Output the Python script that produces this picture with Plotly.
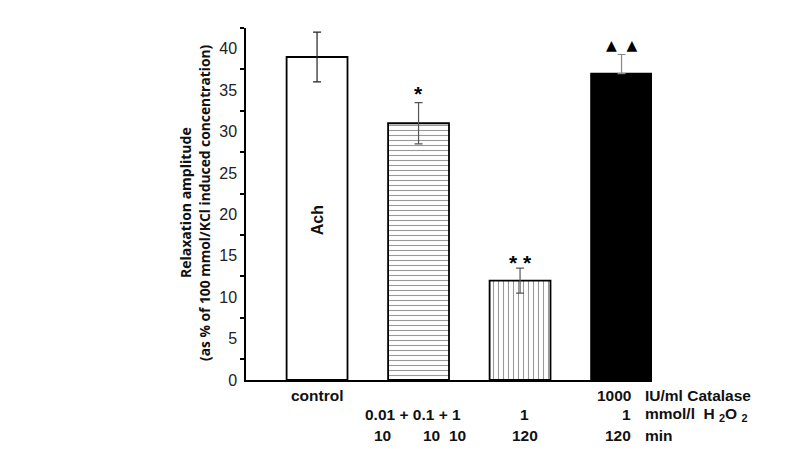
import plotly.graph_objects as go

# ---- data ----
categories = ["control", "H2O2 0.01+0.1+1 (10 min each)", "H2O2 1 (120 min)", "Catalase + H2O2 1 (120 min)"]
values = [39, 31, 12, 37]
errors_up = [3, 2.5, 1.5, 2.3]
errors_down = [3, 2.5, 1.5, 0]
significance = ["", "*", "* *", "\u25B2\u00a0\u00a0\u25B2"]
row_catalase = ["control", "", "", "1000"]
row_h2o2 = ["", "0.01 + 0.1 + 1", "1", "1"]
row_min_cumulative = ["10", "10", "10"]
row_min = ["", "", "120", "120"]
units = ["IU/ml Catalase", "mmol/l\u00a0\u00a0H\u00a0<sub>2</sub>O\u00a0<sub>2</sub>", "min"]
y_ticks = [0, 5, 10, 15, 20, 25, 30, 35, 40]

fills = ["white", "white", "white", "black"]
patterns = ["", "-", "|", ""]
err_colors = ["#222222", "#555555", "#555555", "#888888"]

FONT = "Liberation Sans, Arial, sans-serif"
TITLE_FONT = "Open Sans, Noto Sans, sans-serif"

fig = go.Figure()
xs = list(range(len(categories)))
for i in xs:
    fig.add_trace(go.Bar(
        x=[i], y=[values[i]], width=0.6, name=categories[i],
        marker=dict(color=fills[i], line=dict(color="black", width=1.8),
                    pattern=dict(shape=patterns[i], fgcolor="#333333", bgcolor="white",
                                 size=5, solidity=0.22) if patterns[i] else None),
        error_y=dict(type="data", array=[errors_up[i]], arrayminus=[errors_down[i]],
                     symmetric=False, visible=True,
                     color=err_colors[i], thickness=1.2, width=4),
        showlegend=False,
    ))

# page body has an 8px margin: figure shifted accordingly
W, H = 779, 460
L, T, R, B = 238, 20, 135, 88
PH = H - T - B  # plot height in px
PW = W - L - R
REF_Y0 = 380    # pixel y of the x axis in the reference

fig.update_layout(
    width=W, height=H,
    margin=dict(l=L, r=R, t=T, b=B),
    paper_bgcolor="white", plot_bgcolor="white",
    barmode="overlay",
    font=dict(family=FONT, color="#111111"),
    xaxis=dict(range=[-0.7, 3.3], showline=True, linecolor="black", linewidth=1.5,
               showticklabels=False, ticks="", showgrid=False, zeroline=False),
    yaxis=dict(range=[0, 42.5], showline=True, linecolor="black", linewidth=1.5,
               tickvals=y_ticks, ticktext=[str(v) for v in y_ticks], ticks="",
               tickfont=dict(size=16, color="#222222"), ticklabelstandoff=4,
               showgrid=False, zeroline=False,
               minor=dict(tick0=2.5, dtick=5, ticks="outside", ticklen=4,
                          tickcolor="black", tickwidth=1.5)),
)

ann = []
bold = dict(family=FONT, size=15.5, color="#111111")


def px_x(p):
    return (p - 246) / PW


def px_y(p):
    return (REF_Y0 - p) / PH


# y-axis title (two lines)
ann.append(dict(xref="paper", yref="paper", x=px_x(185), y=px_y(203),
                text="<b>Relaxation amplitude</b>", textangle=-90, showarrow=False,
                font=dict(family=TITLE_FONT, size=14, color="#111111"), xanchor="center", yanchor="middle"))
ann.append(dict(xref="paper", yref="paper", x=px_x(204), y=px_y(203),
                text="<b>(as % of 100 mmol/KCl induced concentration)</b>", textangle=-90, showarrow=False,
                font=dict(family=TITLE_FONT, size=13.8, color="#111111"), xanchor="center", yanchor="middle"))

# Ach inside control bar
ann.append(dict(x=0, y=19.3, text="<b>Ach</b>", textangle=-90, showarrow=False,
                font=dict(family=FONT, size=16, color="#111111")))

# significance markers
sig_y = [0, 34.6, 14.2, 40.5]
sig_size = [16, 21, 21, 14]
sig_font = [FONT, FONT, FONT, "DejaVu Sans"]
for i in xs:
    if significance[i]:
        ann.append(dict(x=i, y=sig_y[i], text="<b>" + significance[i] + "</b>", showarrow=False,
                        font=dict(family=sig_font[i], size=sig_size[i], color="black")))

# bottom rows (paper coordinates, below the axis)
r1, r2, r3 = px_y(395), px_y(414), px_y(435)


def add_text(xv, yv, t, anchor="center"):
    ann.append(dict(x=xv, y=yv, xref="x", yref="paper", text="<b>" + t + "</b>",
                    showarrow=False, font=bold, xanchor=anchor, yanchor="middle"))


add_text(0, r1, row_catalase[0])
add_text(3.113, r1, row_catalase[3], "right")
add_text(0.946, r2, row_h2o2[1])
add_text(2.04, r2, row_h2o2[2])
add_text(3.113, r2, row_h2o2[3], "right")
for xv, t in zip([0.64, 1.13, 1.38], row_min_cumulative):
    add_text(xv, r3, t)
add_text(2.05, r3, row_min[2])
add_text(3.113, r3, row_min[3], "right")
for yv, t in zip([r1, r2, r3], units):
    add_text(3.212, yv, t, "left")

fig.update_layout(annotations=ann)
fig.write_html("out.html")
